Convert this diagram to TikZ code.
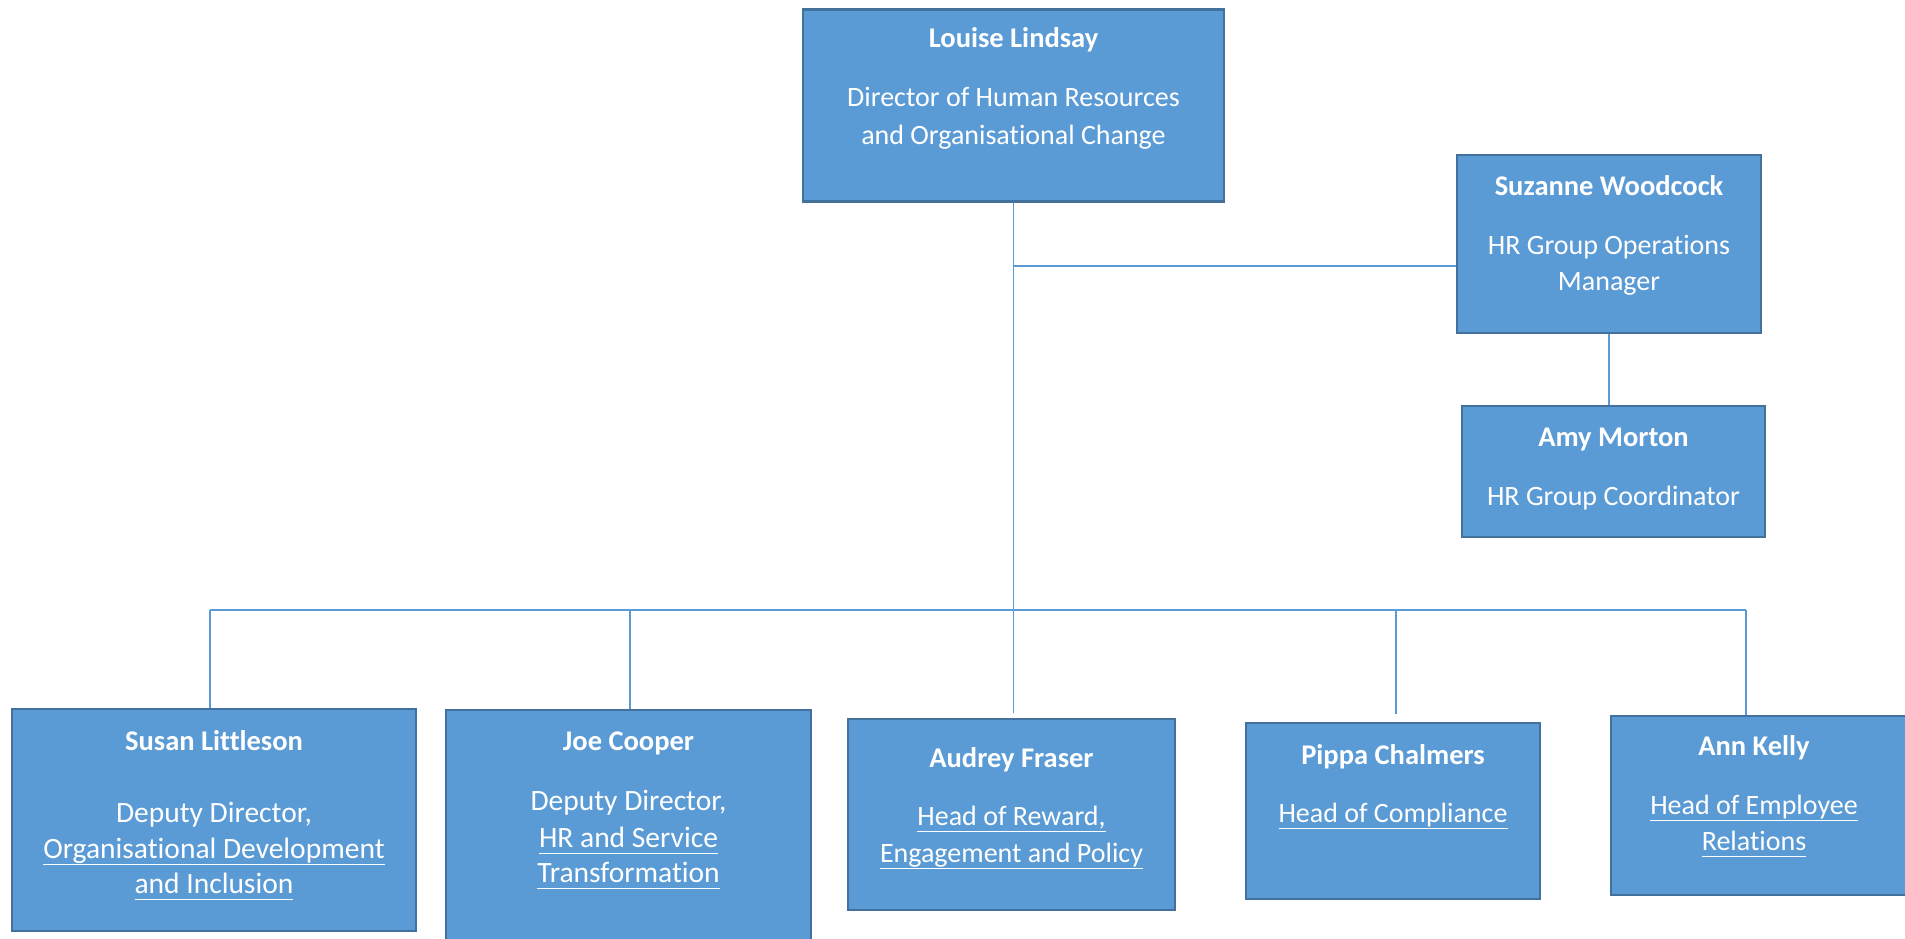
\documentclass[tikz,border=0pt]{standalone}
\usepackage{fontspec}
\setmainfont[Ligatures=NoCommon]{Carlito}
\definecolor{boxfill}{HTML}{5B9BD5}
\definecolor{boxline}{HTML}{41719C}
\definecolor{connline}{HTML}{5B9BD5}
\newcommand{\ulx}[1]{\setbox0\hbox{#1}\rlap{\vrule height -5.5pt depth 7.3pt width \wd0}\box0}
\begin{document}
\begin{tikzpicture}[x=1pt,y=-1pt,
  orgbox/.style={draw=boxline, fill=boxfill, line width=2.3pt, inner sep=0pt, rectangle},
  conn/.style={draw=connline, line width=1.5pt},
  txt/.style={text=white, anchor=base, inner sep=0pt, yshift=-2pt, font=\fontsize{28}{37}\selectfont},
  txtl/.style={txt, font=\fontsize{29.5}{37}\selectfont},
  nm/.style={txt, font=\fontsize{28.5}{37}\selectfont\bfseries}]
\useasboundingbox (0,0) rectangle (1905,939);
% boxes
\node[orgbox, minimum width=421pt, minimum height=192pt] (louise) at (1013.5,105.5) {};
\node[orgbox, minimum width=304pt, minimum height=178pt] (suzanne) at (1609,244) {};
\node[orgbox, minimum width=303pt, minimum height=131pt] (amy) at (1613.5,471.5) {};
\node[orgbox, minimum width=404pt, minimum height=222pt] (susan) at (214,820) {};
\node[orgbox, minimum width=365pt, minimum height=250pt] (joe) at (628.5,835) {};
\node[orgbox, minimum width=327pt, minimum height=191pt] (audrey) at (1011.5,814.5) {};
\node[orgbox, minimum width=294pt, minimum height=176pt] (pippa) at (1393,811) {};
\node[orgbox, minimum width=304pt, minimum height=179pt] (ann) at (1763,805.5) {};
% texts
\node[nm] (louise-n) at (1013.5,46) {Louise Lindsay};
\node[txt] (louise-t1) at (1013.5,105) {Director of Human Resources};
\node[txt] (louise-t2) at (1013.5,142) {and Organisational Change};
\node[nm] (suzanne-n) at (1609,193) {Suzanne Woodcock};
\node[txt] (suzanne-t1) at (1609,252) {HR Group Operations};
\node[txt] (suzanne-t2) at (1609,288) {Manager};
\node[nm] (amy-n) at (1613.5,444) {Amy Morton};
\node[txt] (amy-t1) at (1613.5,503) {HR Group Coordinator};
\node[nm] (susan-n) at (214,748) {Susan Littleson};
\node[txtl] (susan-t1) at (214,820) {Deputy Director,};
\node[txtl] (susan-t2) at (214,856) {\ulx{Organisational Development}};
\node[txtl] (susan-t3) at (214,891) {\ulx{and Inclusion}};
\node[nm] (joe-n) at (628.5,748) {Joe Cooper};
\node[txtl] (joe-t1) at (628.5,808) {Deputy Director,};
\node[txtl] (joe-t2) at (628.5,845) {\ulx{HR and Service}};
\node[txtl] (joe-t3) at (628.5,880) {\ulx{Transformation}};
\node[nm] (audrey-n) at (1011.5,765) {Audrey Fraser};
\node[txt] (audrey-t1) at (1011.5,823) {\ulx{Head of Reward,}};
\node[txt] (audrey-t2) at (1011.5,860) {\ulx{Engagement and Policy}};
\node[nm] (pippa-n) at (1393,762) {Pippa Chalmers};
\node[txt] (pippa-t1) at (1393,820) {\ulx{Head of Compliance}};
\node[nm] (ann-n) at (1754,753) {Ann Kelly};
\node[txt] (ann-t1) at (1754,812) {\ulx{Head of Employee}};
\node[txt] (ann-t2) at (1754,848) {\ulx{Relations}};
% connectors
\coordinate (sb) at (1013,266);
\coordinate (busL) at (210,610);
\coordinate (busR) at (1746,610);
\coordinate (busJ) at (630,610);
\coordinate (busP) at (1396,610);
\draw[conn] (louise.south) -- ([yshift=5pt]louise.south |- audrey.north);
\draw[conn] (sb) -- (sb -| suzanne.west);
\draw[conn] (suzanne.south) -- (suzanne.south |- amy.north);
\draw[conn] (busL) -- (busR);
\draw[conn] (busL) -- (busL |- susan.north);
\draw[conn] (busJ) -- (busJ |- joe.north);
\draw[conn] (busP) -- ([yshift=8pt]busP |- pippa.north);
\draw[conn] (busR) -- (busR |- ann.north);
\end{tikzpicture}
\end{document}
